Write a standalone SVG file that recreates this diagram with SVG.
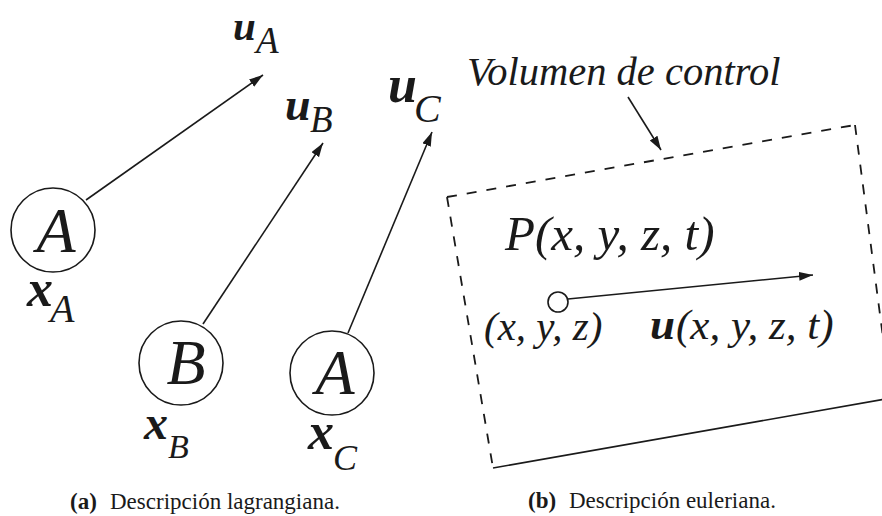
<svg xmlns="http://www.w3.org/2000/svg" width="882" height="516" viewBox="0 0 882 516">
<style>
  .ln { stroke: #1a1a1a; stroke-width: 1.6; fill: none; }
  .dash { stroke: #1a1a1a; stroke-width: 1.8; fill: none; stroke-dasharray: 10 10; }
  .node { stroke: #1a1a1a; stroke-width: 1.6; fill: #ffffff; }
  .it { font-family: "Liberation Serif", "Times New Roman", serif; font-style: italic; fill: #1a1a1a; }
  .bi { font-family: "Liberation Serif", "Times New Roman", serif; font-style: italic; font-weight: bold; fill: #1a1a1a; }
  .cap { font-family: "Liberation Serif", "Times New Roman", serif; font-size: 23px; fill: #1a1a1a; }
  .capb { font-family: "Liberation Serif", "Times New Roman", serif; font-size: 23px; font-weight: bold; fill: #1a1a1a; }
</style>
<defs>
  <marker id="arr" markerUnits="userSpaceOnUse" markerWidth="15" markerHeight="10" refX="14" refY="4.5" orient="auto">
    <path d="M0,0 L14,4.5 L0,9 Z" fill="#1a1a1a"/>
  </marker>
</defs>

<!-- connectors -->
<g id="connectors">
  <line class="ln" x1="86" y1="200" x2="263" y2="75" marker-end="url(#arr)"/>
  <line class="ln" x1="203" y1="324" x2="323" y2="143" marker-end="url(#arr)"/>
  <line class="ln" x1="348" y1="333" x2="432" y2="132" marker-end="url(#arr)"/>
  <line class="ln" x1="628" y1="97" x2="661" y2="150" marker-end="url(#arr)"/>
  <line class="ln" x1="568" y1="299" x2="813" y2="275" marker-end="url(#arr)"/>
</g>

<!-- Lagrangian particles -->
<g id="particleA1">
  <circle class="node" cx="53" cy="230" r="42"/>
  <text class="it" x="56" y="252" font-size="64" text-anchor="middle">A</text>
</g>
<g id="particleB">
  <circle class="node" cx="181" cy="363" r="42"/>
  <text class="it" x="186" y="384" font-size="64" text-anchor="middle">B</text>
</g>
<g id="particleA2">
  <circle class="node" cx="332" cy="373" r="42"/>
  <text class="it" x="335" y="394" font-size="64" text-anchor="middle">A</text>
</g>

<!-- velocity labels -->
<g id="label-uA">
  <text class="bi" x="233" y="40" font-size="41">u</text>
  <text class="it" x="256" y="53" font-size="37">A</text>
</g>
<g id="label-uB">
  <text class="bi" x="285" y="120" font-size="46">u</text>
  <text class="it" x="310" y="132" font-size="37">B</text>
</g>
<g id="label-uC">
  <text class="bi" x="388" y="102" font-size="52">u</text>
  <text class="it" x="414" y="122" font-size="40">C</text>
</g>

<!-- position labels -->
<g id="label-xA">
  <text class="bi" x="27" y="306" font-size="52">x</text>
  <text class="it" x="50" y="322" font-size="40">A</text>
</g>
<g id="label-xB">
  <text class="bi" x="144" y="439" font-size="48">x</text>
  <text class="it" x="168" y="458" font-size="34">B</text>
</g>
<g id="label-xC">
  <text class="bi" x="308" y="449" font-size="52">x</text>
  <text class="it" x="333" y="470" font-size="36">C</text>
</g>

<!-- Eulerian control volume -->
<g id="control-volume">
  <path class="dash" d="M447,197 L855,125"/>
  <path class="dash" d="M447,197 L493,468"/>
  <path class="dash" d="M855,125 L891,398"/>
  <path class="ln" d="M493,468 L891,398"/>
</g>
<g id="label-volumen">
  <text class="it" x="467" y="85" font-size="40.5">Volumen de control</text>
</g>
<g id="label-P">
  <text class="it" x="505" y="250" font-size="49">P(x, y, z, t)</text>
</g>
<g id="point">
  <circle class="node" cx="558" cy="302" r="10"/>
</g>
<g id="label-xyz">
  <text class="it" x="484" y="340" font-size="41">(x, y, z)</text>
</g>
<g id="label-u">
  <text class="bi" x="650" y="339" font-size="45">u</text>
  <text class="it" x="676" y="339" font-size="43">(x, y, z, t)</text>
</g>

<!-- captions -->
<g id="caption-a">
  <text class="capb" x="70" y="509">(a)</text>
  <text class="cap" x="110" y="509">Descripción lagrangiana.</text>
</g>
<g id="caption-b">
  <text class="capb" x="528" y="508">(b)</text>
  <text class="cap" x="569" y="508">Descripción euleriana.</text>
</g>
</svg>
